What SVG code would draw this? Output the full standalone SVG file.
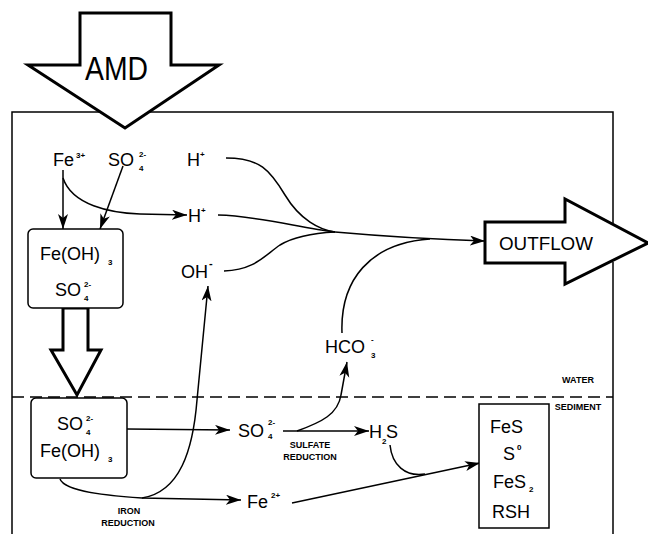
<svg xmlns="http://www.w3.org/2000/svg" width="648" height="534" viewBox="0 0 648 534">
<defs>
<marker id="ah" markerUnits="userSpaceOnUse" markerWidth="16" markerHeight="12" refX="15" refY="5" orient="auto">
<path d="M0,0 L15,5 L0,10 L4,5 z" fill="#000"/>
</marker>
<style>
text{font-family:"Liberation Sans",Arial,sans-serif;fill:#000}
.t{font-size:18px}
.s{font-size:8px;font-weight:bold}
.b{font-size:9px;font-weight:bold;text-anchor:middle}
.ln{fill:none;stroke:#000;stroke-width:1.5}
.ar{fill:none;stroke:#000;stroke-width:1.5;marker-end:url(#ah)}
.big{fill:#fff;stroke:#000;stroke-width:3;stroke-linejoin:miter}
.box{fill:#fff;stroke:#000;stroke-width:1.5}
</style>
</defs>
<rect width="648" height="534" fill="#fff"/>
<g id="frame">
<path class="ln" d="M12,534 L12,112 L613,112 L613,223"/>
<path class="ln" d="M613,262 L613,534"/>
<path d="M12,397 L613,397" fill="none" stroke="#000" stroke-width="1.5" stroke-dasharray="12 6"/>
<text class="b" x="578" y="383">WATER</text>
<text class="b" x="578" y="410">SEDIMENT</text>
</g>
<g id="connectors">
<path class="ar" d="M63,170 L63,229"/>
<path class="ar" d="M123,166 L100,229"/>
<path class="ar" d="M63,178 C72,205 110,213 140,214 L187,215"/>
<path class="ln" d="M226,158 C260,158 270,170 285,195 C300,220 320,230 335,232"/>
<path class="ln" d="M218,215 C260,216 300,228 335,232"/>
<path class="ln" d="M224,271 C255,270 265,255 280,245 C295,236 315,233 335,232"/>
<path class="ar" d="M335,232 C380,236 420,239 485,241"/>
<path class="ln" d="M342,333 C340,280 370,243 430,239"/>
<path class="ar" d="M127,429 L230,430"/>
<path class="ar" d="M283,431 L369,431"/>
<path class="ar" d="M297,431 C322,422 338,414 341,395 L347,362"/>
<path class="ar" d="M60,479 C65,492 110,496 142,498 L241,500"/>
<path class="ar" d="M142,498 C180,492 193,450 197,400 L208,286"/>
<path class="ar" d="M292,503 L480,463"/>
<path class="ln" d="M390,445 C392,465 405,477 425,474"/>
<text class="b" x="310" y="448">SULFATE</text>
<text class="b" x="310" y="460">REDUCTION</text>
<text class="b" x="129" y="514">IRON</text>
<text class="b" x="128" y="526">REDUCTION</text>
</g>
<g id="amd">
<polygon class="big" points="80,13 171,13 171,65 219,65 125,128 28,65 80,65"/>
<text x="85" y="80" font-size="34" textLength="63" lengthAdjust="spacingAndGlyphs">AMD</text>
</g>
<g id="outflow">
<polygon class="big" points="485,222 565,222 565,199 648,243 565,284 565,263 485,263"/>
<text x="499" y="250" font-size="19" textLength="94" lengthAdjust="spacingAndGlyphs">OUTFLOW</text>
</g>
<g id="settle">
<polygon class="big" points="63,308 88,308 88,350 101,350 77,395 51,350 63,350"/>
</g>
<g id="fe3">
<text class="t" x="53" y="166">Fe</text><text class="s" x="76" y="158">3+</text>
</g>
<g id="so4top">
<text class="t" x="108" y="166">SO</text><text class="s" x="139" y="157">2-</text><text class="s" x="139" y="171">4</text>
</g>
<g id="h1">
<text class="t" x="187" y="166">H</text><text class="s" x="200" y="157">+</text>
</g>
<g id="h2">
<text class="t" x="188" y="222">H</text><text class="s" x="201" y="213">+</text>
</g>
<g id="oh">
<text class="t" x="181" y="278">OH</text><text x="209" y="267" font-size="11" font-weight="bold">-</text>
</g>
<g id="box1">
<rect class="box" x="28" y="229" width="95" height="79" rx="5"/>
<text class="t" x="40" y="260">Fe(OH)</text><text class="s" x="108" y="265">3</text>
<text class="t" x="55" y="296">SO</text><text class="s" x="84" y="287">2-</text><text class="s" x="84" y="301">4</text>
</g>
<g id="box2">
<rect class="box" x="31" y="398" width="96" height="80" rx="5"/>
<text class="t" x="57" y="430">SO</text><text class="s" x="86" y="421">2-</text><text class="s" x="86" y="435">4</text>
<text class="t" x="40" y="457">Fe(OH)</text><text class="s" x="108" y="462">3</text>
</g>
<g id="so4mid">
<text class="t" x="238" y="437">SO</text><text class="s" x="268" y="425">2-</text><text class="s" x="268" y="439">4</text>
</g>
<g id="h2s">
<text class="t" x="369" y="438">H</text><text class="s" x="382" y="444">2</text><text class="t" x="386" y="438">S</text>
</g>
<g id="hco3">
<text class="t" x="325" y="353">HCO</text><text class="s" x="371" y="342">-</text><text class="s" x="371" y="358">3</text>
</g>
<g id="fe2">
<text class="t" x="247" y="508">Fe</text><text class="s" x="271" y="498">2+</text>
</g>
<g id="products">
<rect class="box" x="479" y="404" width="70" height="124"/>
<text class="t" x="490" y="433">FeS</text>
<text class="t" x="503" y="460">S</text><text class="s" x="517" y="450">0</text>
<text class="t" x="493" y="488">FeS</text><text class="s" x="529" y="492">2</text>
<text class="t" x="492" y="518">RSH</text>
</g>
</svg>
